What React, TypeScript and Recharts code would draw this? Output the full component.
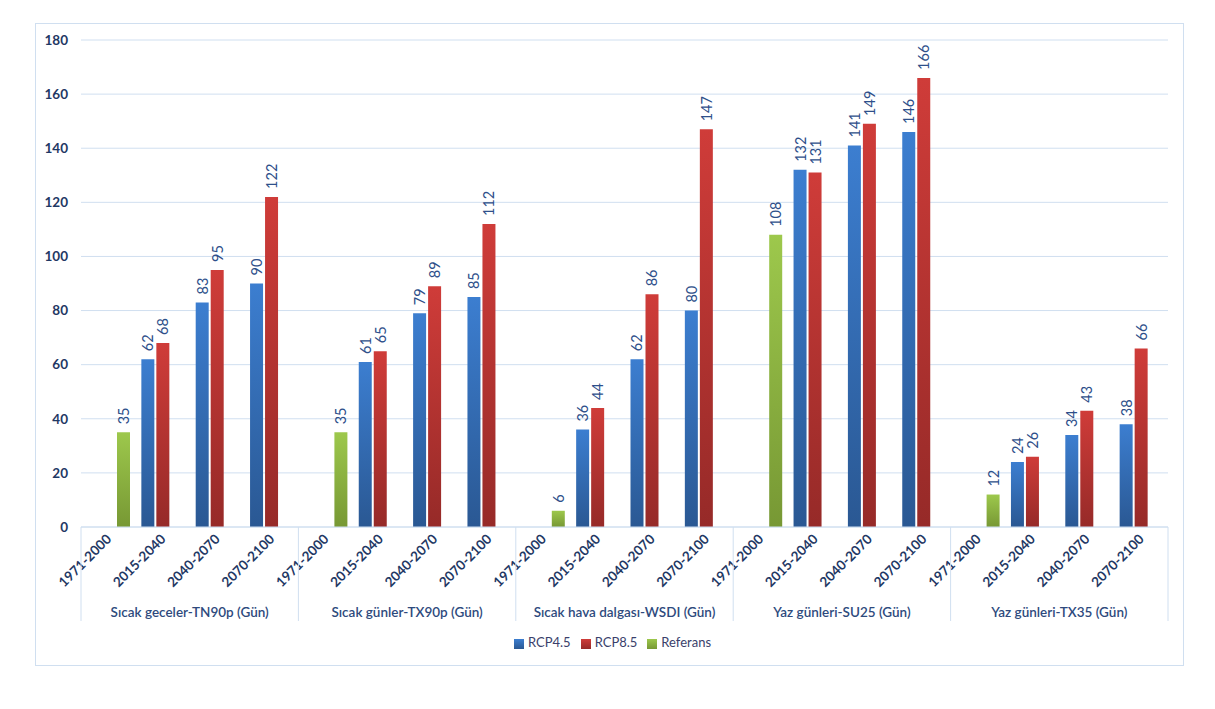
import { Bar, BarChart, CartesianGrid, LabelList, Legend, XAxis, YAxis } from "recharts";

const groups = [
  "Sıcak geceler-TN90p (Gün)",
  "Sıcak günler-TX90p (Gün)",
  "Sıcak hava dalgası-WSDI (Gün)",
  "Yaz günleri-SU25 (Gün)",
  "Yaz günleri-TX35 (Gün)"
];
const periods = ["1971-2000", "2015-2040", "2040-2070", "2070-2100"];

// per group: reference (1971-2000) and the three future periods
const referans = [35, 35, 6, 108, 12];
const rcp45 = [
  [62, 83, 90],
  [61, 79, 85],
  [36, 62, 80],
  [132, 141, 146],
  [24, 34, 38]
];
const rcp85 = [
  [68, 95, 122],
  [65, 89, 112],
  [44, 86, 147],
  [131, 149, 166],
  [26, 43, 66]
];
const yTicks = [0, 20, 40, 60, 80, 100, 120, 140, 160, 180];

const data = groups.flatMap((g, gi) =>
  periods.map((p, pi) => ({
    key: `${gi}-${p}`,
    period: p,
    group: g,
    referans: pi === 0 ? referans[gi] : null,
    rcp45: pi === 0 ? null : rcp45[gi][pi - 1],
    rcp85: pi === 0 ? null : rcp85[gi][pi - 1]
  }))
);

const W = 1215;
const H = 709;
const X_H = 182;
const M = { top: 40, right: 47, left: 0, bottom: 0 };
const Y_W = 81;
const BAND = (W - M.left - M.right - Y_W) / data.length;
const AXIS_Y = H - M.bottom - X_H;

const navy = "#1F3864";
const labelBlue = "#2E4F8A";
const lineBlue = "#D0DFF0";
const font = "Lato, 'Open Sans', sans-serif";

function PeriodTick(props: any) {
  const { x, payload, index } = props;
  const i = index ?? payload.index;
  const row = data[i];
  const ty = AXIS_Y + 13;
  return (
    <g>
      <text
        x={x + 4}
        y={ty}
        transform={`rotate(-45, ${x + 4}, ${ty})`}
        textAnchor="end"
        fontSize={13.5}
        fontWeight={700}
        fill={navy}
        fontFamily={font}
      >
        {row ? row.period : ""}
      </text>
      {i % 4 === 0 && (
        <line x1={x - BAND / 2} x2={x - BAND / 2} y1={AXIS_Y} y2={AXIS_Y + 94} stroke={lineBlue} />
      )}
      {i === data.length - 1 && (
        <line x1={x + BAND / 2} x2={x + BAND / 2} y1={AXIS_Y} y2={AXIS_Y + 94} stroke={lineBlue} />
      )}
      {i % 4 === 1 && row && (
        <text
          x={x + BAND / 2}
          y={AXIS_Y + 90}
          textAnchor="middle"
          fontSize={13.5}
          fontWeight={600}
          fill="#2E4A7D"
          fontFamily={font}
        >
          {row.group}
        </text>
      )}
    </g>
  );
}

function ValueLabel(props: any) {
  const { x, y, width, value } = props;
  if (value === null || value === undefined) return null;
  const cx = x + width / 2;
  const ty = y - 8;
  return (
    <text
      x={cx}
      y={ty}
      transform={`rotate(-90, ${cx}, ${ty})`}
      textAnchor="start"
      dominantBaseline="central"
      fontSize={14.5}
      fill={labelBlue}
      fontFamily={font}
    >
      {value}
    </text>
  );
}

export default function App() {
  return (
    <div style={{ position: "absolute", left: 0, top: 0, width: W, height: H, background: "#fff", fontFamily: font }}>
      <div
        style={{
          position: "absolute",
          left: 35,
          top: 23,
          width: 1149,
          height: 643,
          border: `1px solid ${lineBlue}`,
          boxSizing: "border-box"
        }}
      />
      <BarChart width={W} height={H} data={data} margin={M} barGap={2} barSize={13}>
        <defs>
          <linearGradient id="gBlue" x1="0" x2="0" y1="0" y2="1">
            <stop offset="0%" stopColor="#3C7ED0" />
            <stop offset="100%" stopColor="#2A5893" />
          </linearGradient>
          <linearGradient id="gRed" x1="0" x2="0" y1="0" y2="1">
            <stop offset="0%" stopColor="#CF3C39" />
            <stop offset="100%" stopColor="#962A28" />
          </linearGradient>
          <linearGradient id="gGreen" x1="0" x2="0" y1="0" y2="1">
            <stop offset="0%" stopColor="#9DC84C" />
            <stop offset="100%" stopColor="#779834" />
          </linearGradient>
        </defs>
        <CartesianGrid vertical={false} stroke={lineBlue} />
        <XAxis
          dataKey="key"
          interval={0}
          tick={<PeriodTick />}
          tickLine={false}
          axisLine={{ stroke: lineBlue }}
          height={X_H}
        />
        <YAxis
          width={Y_W}
          domain={[0, 180]}
          ticks={yTicks}
          tickLine={false}
          axisLine={false}
          tickMargin={7}
          tick={{ fontSize: 13.5, fontWeight: 700, fill: navy, fontFamily: font }}
        />
        <Legend
          verticalAlign="middle"
          align="center"
          layout="horizontal"
          iconType="square"
          iconSize={10}
          wrapperStyle={{ top: 634, left: 10, width: W, fontSize: 13, fontFamily: font }}
          formatter={(v: string) => <span style={{ color: "#3A3F6B" }}>{v}</span>}
        />
        <Bar dataKey="rcp45" name="RCP4.5" fill="url(#gBlue)" isAnimationActive={false}>
          <LabelList dataKey="rcp45" content={<ValueLabel />} />
        </Bar>
        <Bar dataKey="rcp85" name="RCP8.5" fill="url(#gRed)" isAnimationActive={false}>
          <LabelList dataKey="rcp85" content={<ValueLabel />} />
        </Bar>
        <Bar dataKey="referans" name="Referans" fill="url(#gGreen)" isAnimationActive={false}>
          <LabelList dataKey="referans" content={<ValueLabel />} />
        </Bar>
      </BarChart>
    </div>
  );
}
